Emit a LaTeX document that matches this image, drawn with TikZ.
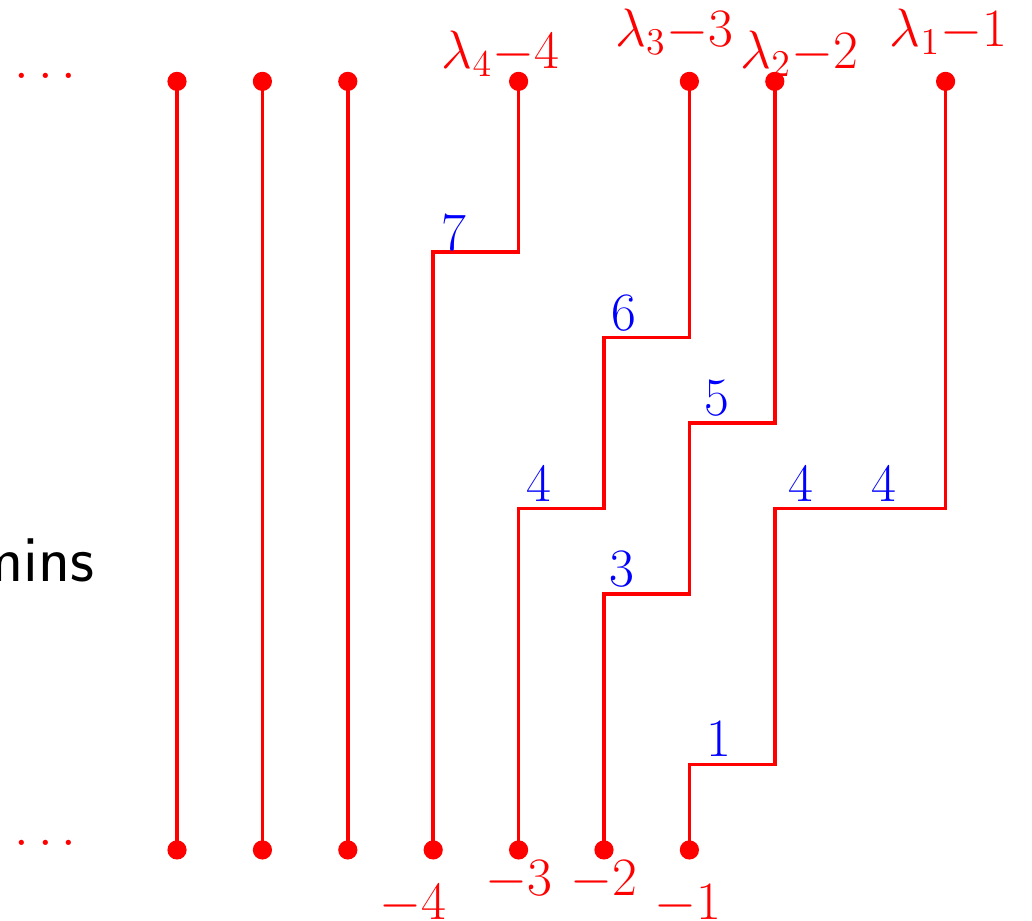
\RequirePackage{fix-cm}
\documentclass[tikz,border=0pt]{standalone}
\begin{document}
\begin{tikzpicture}[
  redline/.style={draw=red, line width=1.2pt},
  pt/.style={circle, fill=red, inner sep=0pt, minimum size=6.4pt},
  lbl/.style={text=red, anchor=base, inner sep=0pt, font=\fontsize{18}{21}\selectfont},
  num/.style={text=blue, anchor=base, inner sep=0pt, font=\fontsize{18}{21}\selectfont},
  word/.style={text=black, anchor=base east, inner sep=0pt, font=\sffamily\fontsize{22}{26}\selectfont}
]
\useasboundingbox (-2.073,-0.831) rectangle (10.012,9.953);
% grid points
\foreach \i in {0,1,2,4,6,7,9} \coordinate (T\i) at (\i,9);
\foreach \i in {0,...,6} \coordinate (B\i) at (\i,0);
% paths
\foreach \i in {0,1,2} \draw[redline] (B\i) -- (T\i);
\draw[redline] (B3) |- (4,7) -- (T4);
\draw[redline] (B4) |- (5,4) |- (6,6) -- (T6);
\draw[redline] (B5) |- (6,3) |- (7,5) -- (T7);
\draw[redline] (B6) |- (7,1) |- (9,4) -- (T9);
% dots
\foreach \i in {0,1,2,4,6,7,9} \node[pt] (t\i) at (T\i) {};
\foreach \i in {0,...,6} \node[pt] (b\i) at (B\i) {};
% top labels
\node[lbl] (l4) at (3.788,9.151) {$\lambda_4{-}4$};
\node[lbl] (l3) at (5.820,9.406) {$\lambda_3{-}3$};
\node[lbl] (l2) at (7.289,9.151) {$\lambda_2{-}2$};
\node[lbl] (l1) at (9.034,9.406) {$\lambda_1{-}1$};
% bottom labels
\node[lbl] (m4) at (2.758,-0.814) {$-4$};
\node[lbl] (m3) at (4.005,-0.533) {$-3$};
\node[lbl] (m2) at (5.000,-0.539) {$-2$};
\node[lbl] (m1) at (5.984,-0.814) {$-1$};
% ellipses
\node[lbl] (et) at (-1.538,9.031) {$\ldots$};
\node[lbl] (eb) at (-1.538,0.047) {$\ldots$};
% blue numbers
\node[num] (n7) at (3.238,7.020) {$7$};
\node[num] (n6) at (5.228,6.077) {$6$};
\node[num] (n5) at (6.323,5.082) {$5$};
\node[num] (n4a) at (4.239,4.075) {$4$};
\node[num] (n3) at (5.211,3.080) {$3$};
\node[num] (n1) at (6.347,1.089) {$1$};
\node[num] (n4b) at (7.301,4.075) {$4$};
\node[num] (n4c) at (8.273,4.075) {$4$};
% partial word
\node[word] (w) at (-0.960,3.138) {mins};
\end{tikzpicture}
\end{document}
